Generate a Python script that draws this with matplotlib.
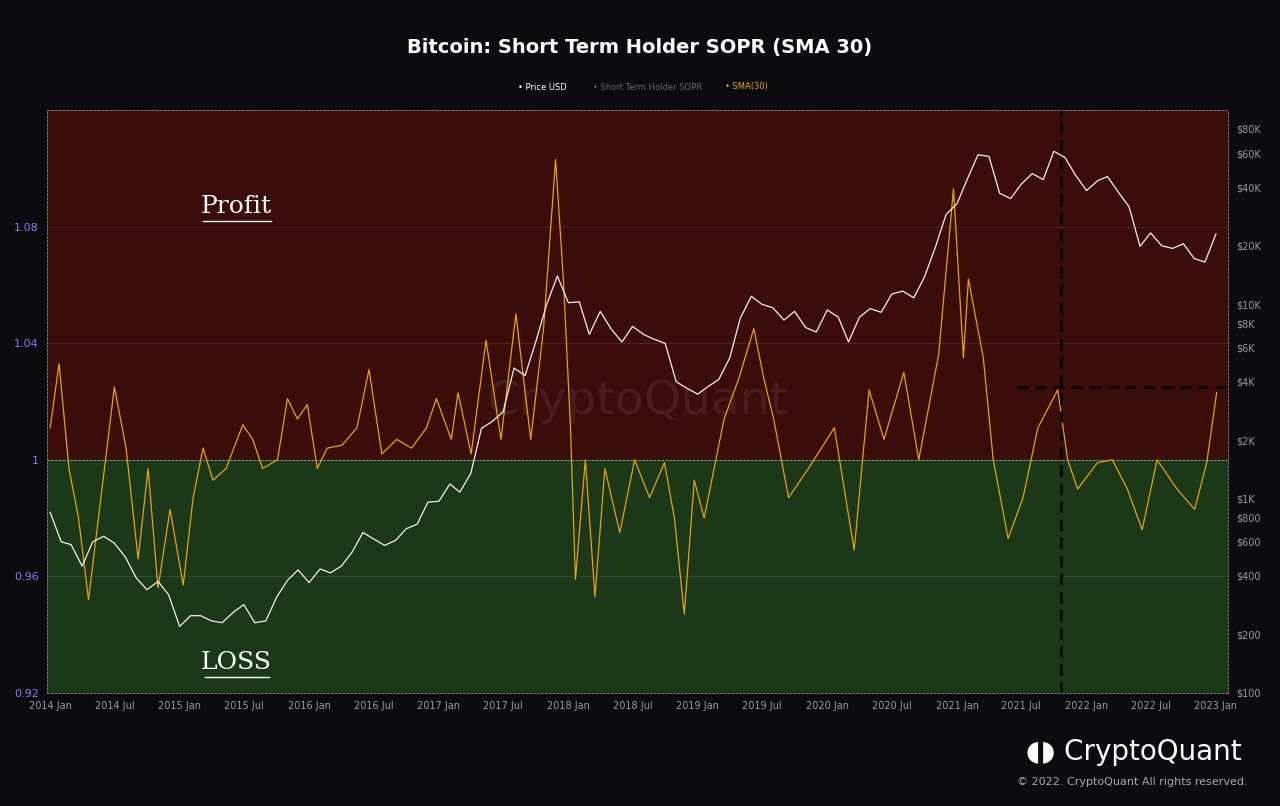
import numpy as np
import pandas as pd
import matplotlib.pyplot as plt
import matplotlib.dates as mdates
from matplotlib.ticker import FixedLocator, NullLocator

# Monthly BTC price (USD), Jan 2014 .. Jan 2023
price_start = "2014-01-01"
price_usd = [
    850, 600, 580, 450, 600, 640, 590, 500, 390, 340, 375, 320,
    220, 250, 250, 235, 230, 260, 285, 230, 235, 310, 380, 430,
    370, 435, 415, 450, 530, 670, 620, 575, 610, 700, 740, 960,
    970, 1190, 1080, 1350, 2300, 2500, 2800, 4700, 4300, 6400, 10000, 14000,
    10200, 10300, 7000, 9200, 7500, 6400, 7700, 7000, 6600, 6300, 4000, 3700,
    3450, 3800, 4100, 5300, 8500, 11000, 10000, 9600, 8300, 9200, 7600, 7200,
    9350, 8600, 6400, 8600, 9500, 9100, 11300, 11700, 10800, 13800, 19700, 29000,
    33000, 45000, 58800, 57700, 37300, 35000, 41500, 47100, 43800, 61300, 57000, 46300,
    38500, 43200, 45500, 37700, 31800, 19900, 23300, 20000, 19400, 20500, 17200, 16500,
    23000,
]

# STH SOPR, 30-day SMA
sopr_dates = [
    "2014-01-01", "2014-01-26", "2014-02-23", "2014-03-22", "2014-04-19", "2014-05-17",
    "2014-07-01", "2014-08-03", "2014-09-06", "2014-10-04", "2014-11-01", "2014-12-05",
    "2015-01-11", "2015-02-08", "2015-03-08", "2015-04-05", "2015-05-12", "2015-06-28",
    "2015-07-26", "2015-08-23", "2015-10-04", "2015-11-01", "2015-11-29", "2015-12-27",
    "2016-01-24", "2016-02-21", "2016-04-03", "2016-05-15", "2016-06-18", "2016-07-24",
    "2016-09-04", "2016-10-16", "2016-11-27", "2016-12-25", "2017-02-05", "2017-02-24",
    "2017-04-02", "2017-05-14", "2017-06-25", "2017-08-06", "2017-09-17", "2017-10-23",
    "2017-11-26", "2017-12-18", "2018-01-07", "2018-01-21", "2018-02-18", "2018-03-17",
    "2018-04-14", "2018-05-26", "2018-07-07", "2018-08-18", "2018-09-29", "2018-10-27",
    "2018-11-24", "2018-12-22", "2019-01-19", "2019-03-16", "2019-04-27", "2019-06-08",
    "2019-07-06", "2019-08-03", "2019-09-14", "2019-11-09", "2020-01-21", "2020-03-17",
    "2020-04-28", "2020-06-09", "2020-08-04", "2020-09-15", "2020-11-10", "2020-12-22",
    "2021-01-19", "2021-02-02", "2021-03-16", "2021-04-13", "2021-05-25", "2021-07-06",
    "2021-08-17", "2021-10-12", "2021-11-09", "2021-12-07", "2022-02-01", "2022-03-15",
    "2022-04-26", "2022-06-07", "2022-07-19", "2022-09-13", "2022-11-02", "2022-12-06",
    "2023-01-03",
]
sopr_sma30 = [
    1.011, 1.033, 0.997, 0.980, 0.952, 0.980,
    1.025, 1.004, 0.966, 0.997, 0.956, 0.983,
    0.957, 0.987, 1.004, 0.993, 0.997, 1.012,
    1.007, 0.997, 1.000, 1.021, 1.014, 1.019,
    0.997, 1.004, 1.005, 1.011, 1.031, 1.002,
    1.007, 1.004, 1.011, 1.021, 1.007, 1.023,
    1.002, 1.041, 1.007, 1.050, 1.007, 1.045,
    1.103, 1.062, 1.011, 0.959, 1.000, 0.953,
    0.997, 0.975, 1.000, 0.987, 0.999, 0.980,
    0.947, 0.993, 0.980, 1.014, 1.028, 1.045,
    1.028, 1.014, 0.987, 0.997, 1.011, 0.969,
    1.024, 1.007, 1.030, 1.000, 1.036, 1.093,
    1.035, 1.062, 1.035, 1.000, 0.973, 0.987,
    1.011, 1.024, 1.000, 0.990, 0.999, 1.000,
    0.990, 0.976, 1.000, 0.990, 0.983, 0.999,
    1.023,
]

marker_date = "2021-10-20"
marker_level = 1.025
sopr_ticks = [0.92, 0.96, 1.0, 1.04, 1.08]
sopr_tick_labels = ["0.92", "0.96", "1", "1.04", "1.08"]
price_ticks = [100, 200, 400, 600, 800, 1000, 2000, 4000, 6000, 8000, 10000, 20000, 40000, 60000, 80000]
price_tick_labels = ["$100", "$200", "$400", "$600", "$800", "$1K", "$2K", "$4K", "$6K", "$8K",
                     "$10K", "$20K", "$40K", "$60K", "$80K"]

BG = "#0b0b10"
GREY = "#9a9aa5"

price_idx = pd.date_range(price_start, periods=len(price_usd), freq="MS")
sopr_idx = pd.to_datetime(sopr_dates)

fig = plt.figure(figsize=(12.8, 8.06), dpi=100, facecolor=BG)
ax = fig.add_axes([47 / 1280, 1 - 693 / 806, 1181 / 1280, 583 / 806])
ax.set_facecolor(BG)
ax.set_ylim(0.92, 1.12)
xmin, xmax = pd.Timestamp("2013-12-23"), pd.Timestamp("2023-02-04")
ax.set_xlim(xmin, xmax)

ax.axhspan(1.0, 1.12, color="#3a0d0b", zorder=0)
ax.axhspan(0.92, 1.0, color="#1b3818", zorder=0)
for t in sopr_ticks[1:]:
    ax.axhline(t, color="#ffffff", alpha=0.12, lw=0.6, zorder=1)
ax.axhline(1.0, color="#cccccc", lw=0.7, ls=(0, (2, 2)), alpha=0.6, zorder=1)

ax.text(0.5, 0.5, "CryptoQuant", transform=ax.transAxes, ha="center", va="center",
        fontsize=34, color="#ffffff", alpha=0.07, zorder=2)

ax.plot(sopr_idx, sopr_sma30, color="#e8a20c", lw=0.9, zorder=4)
ax.axvline(pd.Timestamp(marker_date), color="black", lw=2, ls=(0, (4, 2.5)), zorder=6)
ax.plot([pd.Timestamp("2021-06-20"), xmax], [marker_level, marker_level],
        color="black", lw=2, ls=(0, (4, 2.5)), zorder=6)

ax.text(0.16, 0.835, "Profit", transform=ax.transAxes, ha="center", va="center",
        fontsize=18, color="white", family="DejaVu Serif")
ax.plot([0.132, 0.19], [0.81, 0.81], transform=ax.transAxes, color="white", lw=1)
ax.text(0.16, 0.053, "LOSS", transform=ax.transAxes, ha="center", va="center",
        fontsize=18, color="white", family="DejaVu Serif")
ax.plot([0.134, 0.188], [0.028, 0.028], transform=ax.transAxes, color="white", lw=1)

ax.yaxis.set_major_locator(FixedLocator(sopr_ticks))
ax.set_yticklabels(sopr_tick_labels)
ax.tick_params(axis="y", labelcolor="#8080f0", labelsize=8, length=0, pad=6)
xt = pd.date_range("2014-01-01", "2023-01-01", freq="6MS")
ax.set_xticks(xt)
ax.set_xticklabels([d.strftime("%Y %b") for d in xt])
ax.tick_params(axis="x", colors=GREY, labelsize=7, length=0, pad=6)
for s in ax.spines.values():
    s.set_color("#777777")
    s.set_linestyle((0, (2, 2)))
    s.set_linewidth(0.7)

ax2 = ax.twinx()
ax2.set_yscale("log")
ax2.set_ylim(100, 100000)
ax2.plot(price_idx, price_usd, color="#f4eef0", lw=0.9, zorder=5)
ax2.yaxis.set_major_locator(FixedLocator(price_ticks))
ax2.yaxis.set_minor_locator(NullLocator())
ax2.set_yticklabels(price_tick_labels)
ax2.tick_params(axis="y", colors=GREY, labelsize=7, length=0, pad=6)
for s in ax2.spines.values():
    s.set_visible(False)

fig.text(0.5, 1 - 48 / 806, "Bitcoin: Short Term Holder SOPR (SMA 30)", ha="center", va="center",
         fontsize=14, fontweight="bold", color="white")
fig.text(0.424, 1 - 87 / 806, "• Price USD", ha="center", va="center", fontsize=6, color="white")
fig.text(0.506, 1 - 87 / 806, "• Short Term Holder SOPR", ha="center", va="center", fontsize=6, color="#666670")
fig.text(0.583, 1 - 87 / 806, "• SMA(30)", ha="center", va="center", fontsize=6, color="#e8a20c")

fig.text(1134 / 1280, 1 - 752 / 806, "◖◗ CryptoQuant", ha="center", va="center",
         fontsize=20, color="white")
fig.text(1248 / 1280, 1 - 782 / 806, "© 2022. CryptoQuant All rights reserved.", ha="right",
         va="center", fontsize=8, color="#aaaaaa")

fig.savefig("out.png", dpi=100, facecolor=BG)
